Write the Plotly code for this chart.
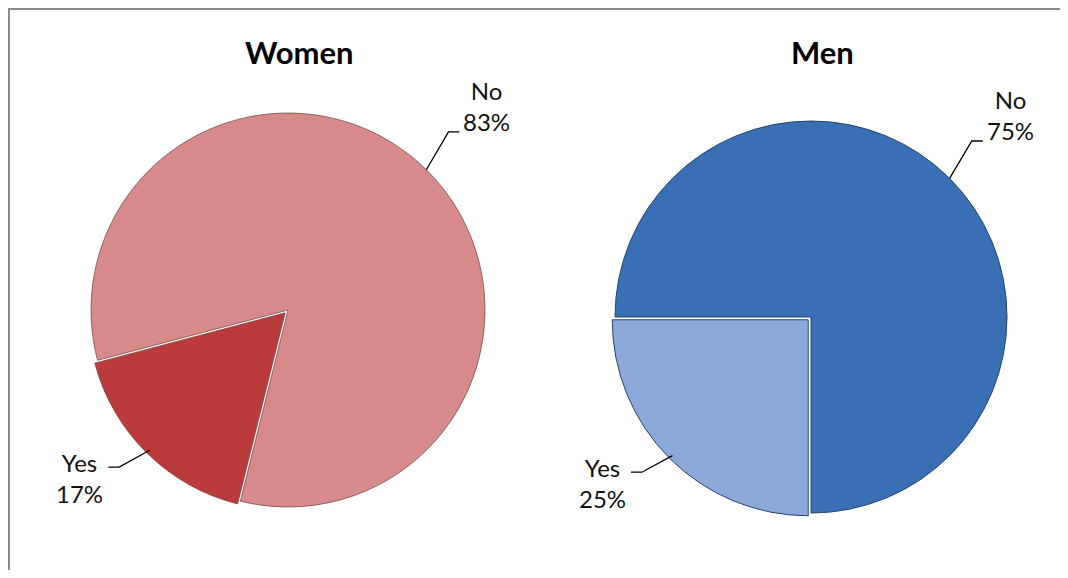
import math
import plotly.graph_objects as go

# ---- data ----
labels = ["Yes", "No"]
women_values = [17, 83]
men_values = [25, 75]
titles = ["Women", "Men"]

# ---- layout constants ----
# page body has an 8px margin, so the figure is drawn 8px in from the window corner
OFF = 8
W, H = 1068 - OFF * 2, 578 - OFF * 2
FONT = "Lato"
PULL = 0.02
pies = [
    dict(name=titles[0], values=women_values, cx=288, cy=310, r=197, rot=194,
         colors=["#bb3a3b", "#d68a8a"], edge="rgba(110,60,60,0.7)"),
    dict(name=titles[1], values=men_values, cx=811, cy=317, r=196, rot=180,
         colors=["#8ca8d8", "#396fb5"], edge="#24456f"),
]


def px2paper(x, y):
    return (x - OFF) / W, 1 - (y - OFF) / H


fig = go.Figure()
shapes = []
annotations = []

for p in pies:
    half = p["r"] * (1 + PULL)
    x0, _ = px2paper(p["cx"] - half, 0)
    x1, _ = px2paper(p["cx"] + half, 0)
    _, y0 = px2paper(0, p["cy"] + half)
    _, y1 = px2paper(0, p["cy"] - half)
    fig.add_trace(go.Pie(
        labels=labels, values=p["values"], sort=False, direction="clockwise",
        rotation=p["rot"], pull=[PULL, 0], textinfo="none", hoverinfo="label+percent",
        marker=dict(colors=p["colors"], line=dict(color=p["edge"], width=1)),
        domain=dict(x=[x0, x1], y=[y0, y1]), showlegend=False,
    ))
    # title
    tx, ty = px2paper(p["cx"] + 11, 52)
    annotations.append(dict(x=tx, y=ty, xref="paper", yref="paper", showarrow=False,
                            text="<b>%s</b>" % p["name"], xanchor="center", yanchor="middle",
                            font=dict(family=FONT, size=31, color="black")))
    # data labels with leader lines
    total = sum(p["values"])
    start = p["rot"]
    for lab, v in zip(labels, p["values"]):
        span = 360 * v / total
        mid = math.radians(start + span / 2)
        start += span
        dx, dy = math.sin(mid), -math.cos(mid)
        side = 1 if dx >= 0 else -1
        kxf, kyf = (1.16, 1.27) if side > 0 else (1.22, 1.12)
        ex, ey = p["cx"] + p["r"] * dx, p["cy"] + p["r"] * dy
        kx, ky = p["cx"] + p["r"] * kxf * dx, p["cy"] + p["r"] * kyf * dy
        hx = kx + side * 11
        path = "M %f %f L %f %f L %f %f" % (
            *px2paper(ex, ey), *px2paper(kx, ky), *px2paper(hx, ky))
        shapes.append(dict(type="path", path=path, xref="paper", yref="paper",
                           line=dict(color="black", width=1.3)))
        pct = round(100 * v / total)
        if side > 0:
            ax, ay = px2paper(hx + 2, ky - 26)
            xa = "left"
        else:
            ax, ay = px2paper(hx - 3, ky + 11)
            xa = "right"
        annotations.append(dict(x=ax, y=ay, xref="paper", yref="paper", showarrow=False,
                                text="%s<br>%d%%" % (lab, pct), xanchor=xa, yanchor="middle",
                                align="center",
                                font=dict(family=FONT, size=24, color="#111111")))

# border (top and left only, chart cropped)
shapes.append(dict(type="line", xref="paper", yref="paper",
                   x0=0, x1=1, y0=1 - 1 / H, y1=1 - 1 / H,
                   line=dict(color="#8a8a8a", width=2)))
shapes.append(dict(type="line", xref="paper", yref="paper",
                   x0=1 / W, x1=1 / W, y0=1, y1=0,
                   line=dict(color="#8a8a8a", width=2)))

fig.update_layout(
    width=W, height=H, margin=dict(l=0, r=0, t=0, b=0),
    paper_bgcolor="white", plot_bgcolor="white",
    shapes=shapes, annotations=annotations,
    font=dict(family=FONT),
)

fig.write_html("out.html", config={"displayModeBar": False})
